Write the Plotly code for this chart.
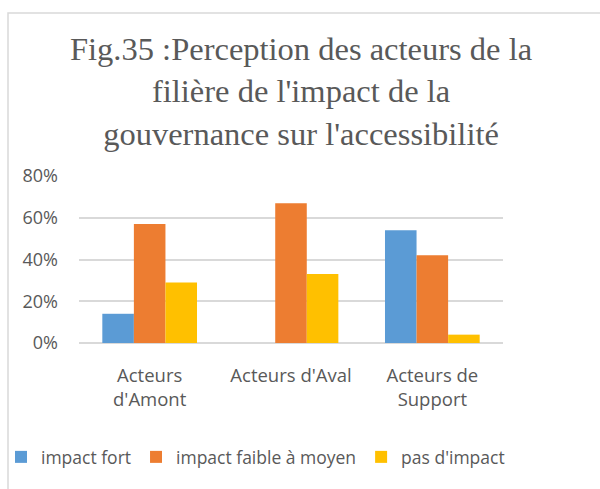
import plotly.graph_objects as go

# Survey results: share of actors per perceived impact level
categories = ["Acteurs<br>d'Amont", "Acteurs d'Aval", "Acteurs de<br>Support"]
series_names = ["impact fort", "impact faible à moyen", "pas d'impact"]
impact_fort = [0.14, None, 0.54]
impact_faible_moyen = [0.57, 0.67, 0.42]
pas_impact = [0.29, 0.33, 0.04]
y_ticks = [0, 0.2, 0.4, 0.6, 0.8]
y_tick_labels = ["0%", "20%", "40%", "60%", "80%"]

colors = ["#5B9BD5", "#ED7D31", "#FFC000"]
text_grey = "#595959"
grid_grey = "#D9D9D9"
sans = "Open Sans, Roboto, sans-serif"

W, H = 600, 489
ML, MR, MT, MB = 79, 97, 176, 146
plot_w = W - ML - MR
plot_h = H - MT - MB


def px_x(px):
    return (px - ML) / plot_w


def px_y(py):
    return (H - MB - py) / plot_h


fig = go.Figure()
for name, vals, col in zip(series_names,
                           [impact_fort, impact_faible_moyen, pas_impact],
                           colors):
    fig.add_trace(go.Bar(name=name, x=categories, y=vals,
                         marker=dict(color=col, line=dict(width=0))))

fig.update_layout(
    width=W, height=H,
    margin=dict(l=ML, r=MR, t=MT, b=MB, autoexpand=False),
    paper_bgcolor="white", plot_bgcolor="white",
    barmode="group", bargap=0.33, bargroupgap=0,
    font=dict(family=sans, size=18, color=text_grey),
    showlegend=True,
    legend=dict(orientation="h", x=px_x(510), xanchor="right",
                y=px_y(457), yanchor="middle",
                font=dict(family=sans, size=17.5, color=text_grey),
                itemwidth=30, tracegroupgap=0, bgcolor="rgba(0,0,0,0)"),
    xaxis=dict(showgrid=False, showline=False, zeroline=False,
               ticks="", ticklabelstandoff=19,
               tickfont=dict(family=sans, size=18.5, color=text_grey)),
    yaxis=dict(range=[0, 0.8], tickvals=y_ticks, ticktext=y_tick_labels,
               showgrid=True, gridcolor=grid_grey, gridwidth=1.5,
               zeroline=True, zerolinecolor=grid_grey, zerolinewidth=1.5,
               showline=False, ticks="", ticklabelstandoff=20,
               tickfont=dict(family=sans, size=18, color=text_grey)),
)

# Chart title
fig.add_annotation(
    text="Fig.35 :Perception des acteurs de la<br>filière de l'impact de la<br>gouvernance sur l'accessibilité",
    xref="paper", yref="paper", x=px_x(301), y=px_y(91),
    xanchor="center", yanchor="middle", showarrow=False, align="center",
    font=dict(family="Liberation Serif, Times New Roman, serif", size=32.5,
              color=text_grey),
)

# Chart-area frame
fig.add_shape(type="rect", xref="paper", yref="paper",
              x0=px_x(8), x1=px_x(W + 10), y0=px_y(H + 10), y1=px_y(13),
              line=dict(color=grid_grey, width=1.5), fillcolor="rgba(0,0,0,0)",
              layer="below")

fig.write_html("out.html")
